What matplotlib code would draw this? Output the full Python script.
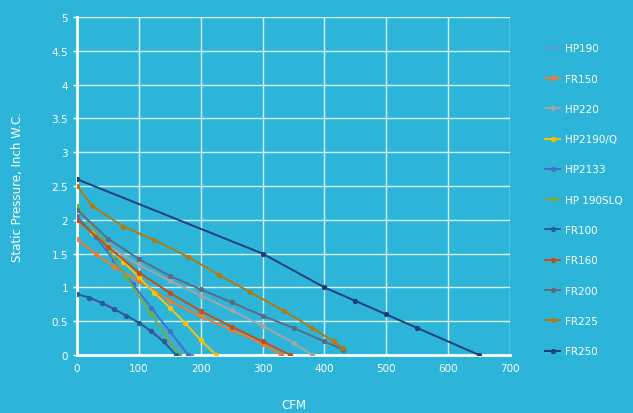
import matplotlib
matplotlib.use("Agg")
import matplotlib.pyplot as plt
from matplotlib.ticker import MultipleLocator, FuncFormatter

# ---- data ----
hp190_x = [0, 25, 50, 75, 100, 125, 150, 185]
hp190_y = [0.9, 0.82, 0.72, 0.6, 0.47, 0.33, 0.2, 0.0]

fr150_x = [0, 30, 60, 100, 150, 200, 250, 300, 330]
fr150_y = [1.72, 1.5, 1.3, 1.1, 0.8, 0.57, 0.37, 0.17, 0.0]

hp220_x = [0, 50, 100, 150, 200, 250, 300, 350, 380]
hp220_y = [2.0, 1.62, 1.33, 1.1, 0.88, 0.66, 0.43, 0.18, 0.0]

hp2190q_x = [0, 25, 50, 75, 100, 125, 150, 175, 200, 225]
hp2190q_y = [2.0, 1.8, 1.6, 1.38, 1.15, 0.92, 0.7, 0.47, 0.22, 0.0]

hp2133_x = [0, 30, 60, 90, 120, 150, 180]
hp2133_y = [2.05, 1.75, 1.4, 1.05, 0.7, 0.35, 0.0]

hp190slq_x = [0, 40, 80, 120, 165]
hp190slq_y = [2.2, 1.7, 1.15, 0.6, 0.0]

fr100_x = [0, 20, 40, 60, 80, 100, 120, 140, 160]
fr100_y = [0.9, 0.85, 0.77, 0.68, 0.58, 0.48, 0.35, 0.2, 0.0]

fr160_x = [0, 50, 100, 150, 200, 250, 300, 345]
fr160_y = [2.0, 1.6, 1.22, 0.92, 0.65, 0.42, 0.2, 0.0]

fr200_x = [0, 50, 100, 150, 200, 250, 300, 350, 400, 430]
fr200_y = [2.15, 1.72, 1.42, 1.17, 0.97, 0.78, 0.58, 0.4, 0.2, 0.08]

fr225_x = [0, 25, 75, 125, 180, 230, 280, 335, 380, 415, 430]
fr225_y = [2.5, 2.2, 1.9, 1.7, 1.45, 1.18, 0.93, 0.65, 0.4, 0.2, 0.1]

fr250_x = [0, 300, 400, 450, 500, 550, 650]
fr250_y = [2.6, 1.5, 1.0, 0.8, 0.6, 0.4, 0.0]

series_names = ["HP190", "FR150", "HP220", "HP2190/Q", "HP2133", "HP 190SLQ",
                "FR100", "FR160", "FR200", "FR225", "FR250"]
series_x = [hp190_x, fr150_x, hp220_x, hp2190q_x, hp2133_x, hp190slq_x,
            fr100_x, fr160_x, fr200_x, fr225_x, fr250_x]
series_y = [hp190_y, fr150_y, hp220_y, hp2190q_y, hp2133_y, hp190slq_y,
            fr100_y, fr160_y, fr200_y, fr225_y, fr250_y]
colors = ["#5B9BD5", "#ED7D31", "#A5A5A5", "#FFC000", "#4472C4", "#70AD47",
          "#255E91", "#C0501A", "#5E6A80", "#B07A10", "#1F3F78"]

x_ticks = [0, 100, 200, 300, 400, 500, 600, 700]

# ---- figure ----
bg = "#2db5d9"
fig = plt.figure(figsize=(6.33, 4.14), dpi=100, facecolor=bg)
ax = fig.add_axes([77/633, 58/414, 433/633, 338/414], facecolor=bg)

for xs, ys, name, c in zip(series_x, series_y, series_names, colors):
    ax.plot(xs, ys, color=c, lw=1.4, marker="o", ms=2.8, label=name, zorder=3)

ax.set_xlim(0, 700)
ax.set_ylim(0, 5)
ax.set_xticks(x_ticks)
ax.yaxis.set_major_locator(MultipleLocator(0.5))
ax.yaxis.set_major_formatter(FuncFormatter(lambda v, p: f"{v:g}"))

ax.grid(True, color="white", lw=1.0, alpha=0.8, zorder=1)
ax.set_axisbelow(True)
for s in ["top", "right"]:
    ax.spines[s].set_visible(False)
for s in ["left", "bottom"]:
    ax.spines[s].set_color("white")
    ax.spines[s].set_linewidth(2)

ax.tick_params(colors="white", labelsize=7.5, length=3, width=1)
ax.tick_params(axis="x", length=0, pad=6)

ax.set_xlabel("CFM", color="white", fontsize=8.5, labelpad=18)
ax.set_ylabel("Static Pressure, Inch W.C.", color="white", fontsize=8.5, labelpad=20)

leg = fig.legend(loc="center left", bbox_to_anchor=(536/633, 0.515), frameon=False,
                 fontsize=7.5, labelcolor="white", handlelength=1.4,
                 labelspacing=1.95, handletextpad=0.5)

fig.savefig("out.png", dpi=100, facecolor=bg)
